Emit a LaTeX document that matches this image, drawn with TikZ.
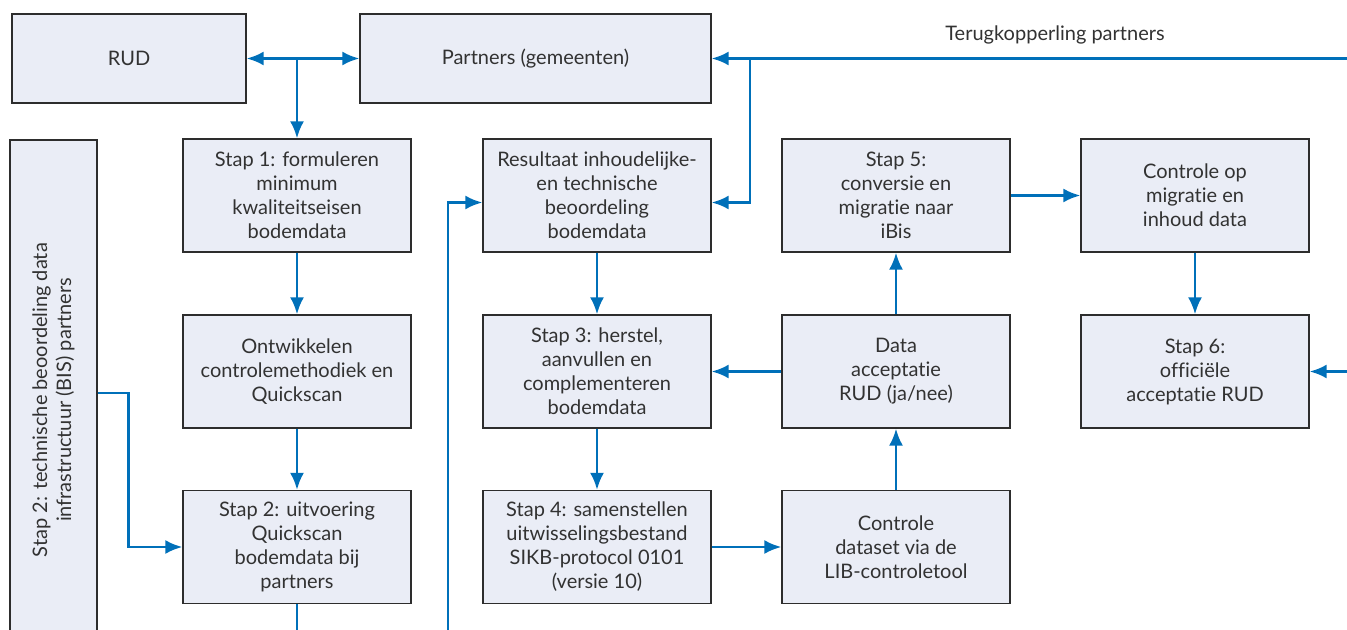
\documentclass[tikz,border=0pt]{standalone}
\usepackage{fontspec}
\setmainfont{Lato}[Ligatures=NoCommon]
\usetikzlibrary{arrows.meta}
\definecolor{flowblue}{RGB}{0,112,185}
\definecolor{boxfill}{RGB}{234,237,246}
\definecolor{boxline}{RGB}{45,45,45}
\definecolor{boxtext}{RGB}{50,50,50}
\tikzset{>={Latex[length=8.5pt,width=7pt]}}

\begin{document}
\begin{tikzpicture}[
    x=0.5pt, y=-0.5pt,
    every node/.style={font=\fontsize{10}{12}\selectfont, text=boxtext, align=center},
    stepbox/.style={draw=boxline, fill=boxfill, line width=0.6pt, minimum width=114pt, minimum height=56.5pt, inner sep=0pt},
    flow/.style={draw=flowblue, line width=1.4pt}
]
    \useasboundingbox (0,0) rectangle (1347,630);
    \clip (0,0) rectangle (1347,630);

    % Nodes
    \node[stepbox, minimum width=117pt, minimum height=44.5pt] (rud) at (129,58.5) {RUD};
    \node[stepbox, minimum width=175.5pt, minimum height=44.5pt] (partners) at (535.5,58.5) {Partners (gemeenten)};
    \node[stepbox, rotate=90, minimum width=260pt, minimum height=43.5pt] (bis) at (53.5,400) {Stap 2: technische beoordeling data\\infrastructuur (BIS) partners};

    \node[stepbox] (stap1) at (297,195.5) {Stap 1: formuleren\\minimum\\kwaliteitseisen\\bodemdata};
    \node[stepbox] (ontw) at (297,371.5) {Ontwikkelen\\controlemethodiek en\\Quickscan};
    \node[stepbox] (stap2) at (297,547) {Stap 2: uitvoering\\Quickscan\\bodemdata bij\\partners};

    \node[stepbox] (result) at (597,195.5) {Resultaat inhoudelijke-\\en technische\\beoordeling\\bodemdata};
    \node[stepbox] (stap3) at (597,371.5) {Stap 3: herstel,\\aanvullen en\\complementeren\\bodemdata};
    \node[stepbox] (stap4) at (597,547) {Stap 4: samenstellen\\uitwisselingsbestand\\SIKB-protocol 0101\\(versie 10)};

    \node[stepbox] (stap5) at (896,195.5) {Stap 5:\\conversie en\\migratie naar\\iBis};
    \node[stepbox] (accept) at (896,371.5) {Data\\acceptatie\\RUD (ja/nee)};
    \node[stepbox] (check) at (896,547) {Controle\\dataset via de\\LIB-controletool};

    \node[stepbox] (migr) at (1195,195.5) {Controle op\\migratie en\\inhoud data};
    \node[stepbox] (stap6) at (1195,371.5) {Stap 6:\\officiële\\acceptatie RUD};

    \node (feedlabel) at (1055,35) {Terugkopperling partners};

    % Free ends
    \coordinate (feedin) at (1347,58.5);
    \coordinate (feedsplit) at (750,58.5);
    \coordinate (loopin) at (448,630);
    \coordinate (stap2out) at (297,630);
    \coordinate (acceptin) at (1347,371.5);

    % Arrows
    \draw[flow,<->] (rud) -- (partners);
    \draw[flow,->] (rud.east -| stap1.north) -- (stap1);
    \draw[flow,->] (feedin) -- (partners);
    \draw[flow,->] (feedsplit) |- ([yshift=-3.5pt]result.east);
    \draw[flow,->] (stap1) -- (ontw);
    \draw[flow,->] (ontw) -- (stap2);
    \draw[flow] (stap2) -- (stap2out);
    \draw[flow,->] ([yshift=3.5pt]bis.south) -- ++(31,0) |- (stap2);
    \draw[flow,->] (loopin) |- ([yshift=-3.5pt]result.west);
    \draw[flow,->] (result) -- (stap3);
    \draw[flow,->] (stap3) -- (stap4);
    \draw[flow,->] (stap4) -- (check);
    \draw[flow,->] (check) -- (accept);
    \draw[flow,->] (accept) -- (stap3);
    \draw[flow,->] (accept) -- (stap5);
    \draw[flow,->] (stap5) -- (migr);
    \draw[flow,->] (migr) -- (stap6);
    \draw[flow,->] (acceptin) -- (stap6);
\end{tikzpicture}
\end{document}
